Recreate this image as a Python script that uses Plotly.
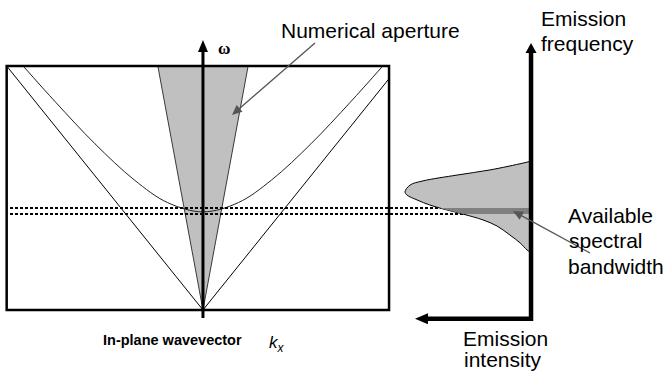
import numpy as np
import plotly.graph_objects as go

# ---------------- data ----------------
# Dispersion diagram: in-plane wavevector k (light-line units) vs frequency ω
box_k = [-1.0, 0.948]              # frame extent in k
box_w = [0.0, 1.0]                 # frame extent in ω

light_k = [-1.0, 0.0, 0.948]       # light lines ω = |k|
light_w = [1.0, 0.0, 0.948]

mode_k = [-0.916, -0.75, -0.55, -0.35, -0.18, 0.0, 0.18, 0.35, 0.55, 0.75, 0.916]
mode_w = [1.0, 0.851, 0.681, 0.533, 0.440, 0.402, 0.440, 0.533, 0.681, 0.851, 1.0]

na_k = [-0.23, 0.0, 0.23]          # numerical-aperture cone
na_w = [1.0, 0.0, 1.0]

band_w = [0.393, 0.418]            # available spectral window

# Emission spectrum: frequency vs intensity (peak normalised)
em_w = [0.610, 0.602, 0.574, 0.553, 0.529, 0.512, 0.484, 0.471, 0.451,
        0.430, 0.414, 0.393, 0.369, 0.344, 0.307, 0.275, 0.246, 0.234]
em_i = [0.000, 0.063, 0.325, 0.587, 0.857, 0.960, 1.000, 0.984, 0.905,
        0.802, 0.698, 0.540, 0.381, 0.270, 0.167, 0.087, 0.032, 0.000]

# ---------------- layout geometry ----------------
W, H = 667, 379
K_RANGE = [-1.034, 2.364]
I_RANGE = [4.214, -1.079]          # intensity grows to the left
W_RANGE = [-0.283, 1.2705]


def i_to_k(i):
    frac = (i - I_RANGE[0]) / (I_RANGE[1] - I_RANGE[0])
    return K_RANGE[0] + frac * (K_RANGE[1] - K_RANGE[0])


FONT = "Arial, 'Liberation Sans', sans-serif"

fig = go.Figure()

# numerical aperture cone
fig.add_trace(go.Scatter(x=na_k, y=na_w, mode="lines", fill="toself",
                         fillcolor="#c0c0c0",
                         line=dict(color="#3a3a3a", width=1)))
# light lines
fig.add_trace(go.Scatter(x=light_k, y=light_w, mode="lines",
                         line=dict(color="black", width=1)))
# guided mode dispersion
fig.add_trace(go.Scatter(x=mode_k, y=mode_w, mode="lines",
                         line=dict(color="#222222", width=1, shape="spline")))

# emission spectrum
fig.add_trace(go.Scatter(x=em_i, y=em_w, xaxis="x2", mode="lines",
                         fill="toself", fillcolor="#c0c0c0",
                         line=dict(color="black", width=1, shape="spline")))

# part of the spectrum inside the spectral window
lo_w = np.array(em_w[6:][::-1])
lo_i = np.array(em_i[6:][::-1])
inside = (lo_w > band_w[0]) & (lo_w < band_w[1])
edge_w = [band_w[1]] + list(lo_w[inside][::-1]) + [band_w[0]]
edge_i = [float(np.interp(band_w[1], lo_w, lo_i))] + list(lo_i[inside][::-1]) + \
         [float(np.interp(band_w[0], lo_w, lo_i))]
fig.add_trace(go.Scatter(x=edge_i + [0, 0], y=edge_w + [band_w[0], band_w[1]],
                         xaxis="x2", mode="lines", fill="toself",
                         fillcolor="#808080", line=dict(width=0)))

# dotted window lines across both panels
for w in band_w:
    fig.add_trace(go.Scatter(x=[box_k[0] + 0.017, i_to_k(0)], y=[w, w],
                             mode="lines",
                             line=dict(color="black", width=2, dash="3px,2px")))

# emission axes (frequency up, intensity left)
fig.add_trace(go.Scatter(x=[0.833, 0, 0], y=[-0.0357, -0.0357, 1.06],
                         xaxis="x2", mode="lines",
                         line=dict(color="black", width=4.5)))

shapes = [
    # frame
    dict(type="rect", xref="x", yref="y", x0=box_k[0], x1=box_k[1],
         y0=box_w[0], y1=box_w[1], line=dict(color="black", width=2.5)),
    # ω axis
    dict(type="line", xref="x", yref="y", x0=0, x1=0, y0=-0.033, y1=1.07,
         line=dict(color="black", width=3)),
    dict(type="path", xref="x", yref="y", xsizemode="pixel", ysizemode="pixel",
         xanchor=0, yanchor=1.107, path="M0,0 L-5,-12 L5,-12 Z",
         fillcolor="black", line=dict(width=0)),
    # emission frequency arrowhead
    dict(type="path", xref="x2", yref="y", xsizemode="pixel", ysizemode="pixel",
         xanchor=0, yanchor=1.094, path="M0,0 L-5.5,-10 L5.5,-10 Z",
         fillcolor="black", line=dict(width=0)),
    # emission intensity arrowhead
    dict(type="path", xref="x2", yref="y", xsizemode="pixel", ysizemode="pixel",
         xanchor=0.921, yanchor=-0.0357, path="M0,0 L13,5.5 L13,-5.5 Z",
         fillcolor="black", line=dict(width=0)),
]


def pointer_shapes(tip, tail, color="#555555", head_len=10.0, head_half=4.5):
    """Thin callout line with a filled triangular head, given in page pixels."""
    tip = np.array(tip, float)
    tail = np.array(tail, float)
    d = tip - tail
    d /= np.hypot(*d)
    n = np.array([-d[1], d[0]])
    base = tip - d * head_len
    p1, p2 = base + n * head_half, base - n * head_half

    def pp(p):
        return f"{p[0] / W:.5f},{1 - p[1] / H:.5f}"

    return [
        dict(type="line", xref="paper", yref="paper",
             x0=tail[0] / W, y0=1 - tail[1] / H,
             x1=(base[0] + d[0] * 2) / W, y1=1 - (base[1] + d[1] * 2) / H,
             line=dict(color=color, width=1.3)),
        dict(type="path", xref="paper", yref="paper",
             path=f"M{pp(tip)} L{pp(p1)} L{pp(p2)} Z",
             fillcolor=color, line=dict(width=0)),
    ]


def label(text, px, py, size=21, family=FONT, anchor="left"):
    return dict(text=text, xref="paper", yref="paper", x=px / W, y=1 - py / H,
                xanchor=anchor, yanchor="middle", showarrow=False,
                font=dict(family=family, size=size, color="black"))


annotations = [
    label("Numerical aperture", 279, 30),
    label("Emission", 539, 18),
    label("frequency", 539, 43),
    label("Available", 566, 215),
    label("spectral", 567, 240),
    label("bandwidth", 566, 266),
    label("Emission", 461, 338),
    label("intensity", 462, 359),
    label("<b>In-plane wavevector</b>", 101, 340, size=14.5),
    label("<i>k</i><sub><i>x</i></sub>", 267, 344, size=17),
    label("<b>ω</b>", 216, 49, size=17,
          family="'Liberation Serif', 'Times New Roman', serif"),
]

# callouts are drawn above the text so the second one crosses "spectral"
shapes += pointer_shapes((232, 115), (315, 43))
shapes += pointer_shapes((513, 211), (590, 253))

fig.update_layout(
    width=W, height=H, autosize=False,
    margin=dict(l=0, r=0, t=0, b=0),
    paper_bgcolor="white", plot_bgcolor="white",
    showlegend=False,
    xaxis=dict(range=K_RANGE, visible=False, fixedrange=True),
    xaxis2=dict(range=I_RANGE, overlaying="x", visible=False, fixedrange=True),
    yaxis=dict(range=W_RANGE, visible=False, fixedrange=True),
    shapes=shapes,
    annotations=annotations,
    hovermode=False,
)

fig.write_html("out.html")
